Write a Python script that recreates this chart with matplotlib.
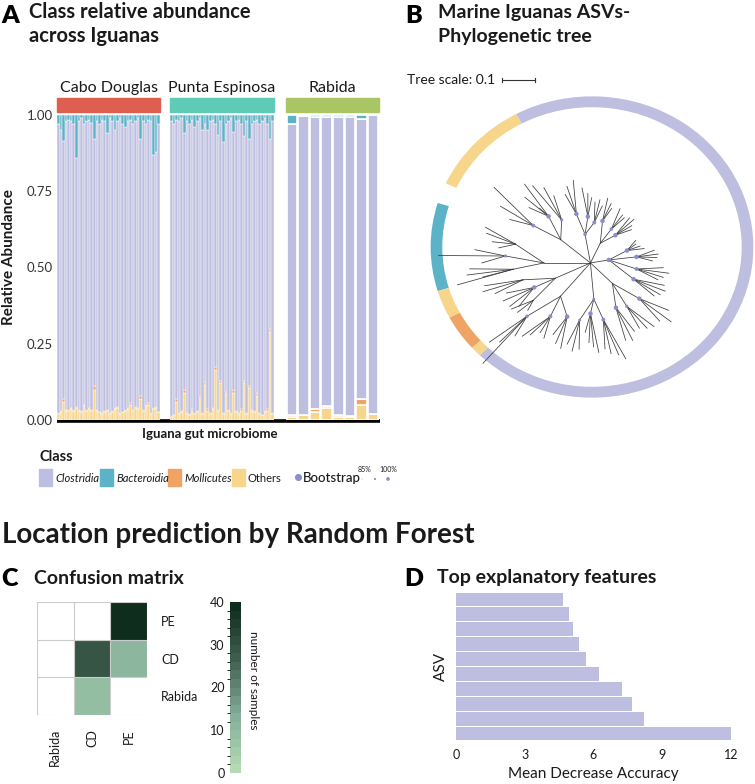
import numpy as np
import matplotlib
matplotlib.use("Agg")
import matplotlib.pyplot as plt
from matplotlib.patches import Rectangle, Wedge
from matplotlib.colors import LinearSegmentedColormap, BoundaryNorm

plt.rcParams['font.family'] = ['Lato', 'DejaVu Sans']

W, H = 755, 784

# ---- panel A data (relative abundance per sample) ----
cd_bacteroidia = [0.03, 0.05, 0.085, 0.02, 0.015, 0.02, 0.03, 0.14, 0.02, 0.01,
                  0.03, 0.02, 0.015, 0.025, 0.08, 0.02, 0.03, 0.015, 0.02, 0.06,
                  0.01, 0.02, 0.05, 0.02, 0.01, 0.03, 0.04, 0.02, 0.015, 0.03,
                  0.02, 0.01, 0.08, 0.02, 0.03, 0.015, 0.02, 0.13, 0.12, 0.03]
cd_others = [0.02, 0.025, 0.06, 0.03, 0.03, 0.035, 0.03, 0.04, 0.03, 0.025,
             0.045, 0.03, 0.035, 0.03, 0.10, 0.03, 0.025, 0.02, 0.025, 0.03,
             0.02, 0.025, 0.035, 0.04, 0.02, 0.025, 0.03, 0.035, 0.05, 0.03,
             0.04, 0.035, 0.07, 0.03, 0.045, 0.05, 0.02, 0.035, 0.04, 0.025]
cd_mollicutes = [0.003, 0.003, 0.01, 0.002, 0.003, 0.004, 0.002, 0.003, 0.002, 0.003,
                 0.004, 0.002, 0.003, 0.002, 0.012, 0.003, 0.002, 0.002, 0.003, 0.002,
                 0.002, 0.003, 0.004, 0.003, 0.002, 0.002, 0.003, 0.004, 0.006, 0.002,
                 0.003, 0.004, 0.008, 0.003, 0.004, 0.006, 0.002, 0.003, 0.004, 0.002]

pe_bacteroidia = [0.02, 0.03, 0.015, 0.02, 0.01, 0.06, 0.02, 0.03, 0.015, 0.04,
                  0.02, 0.01, 0.05, 0.03, 0.05, 0.02, 0.015, 0.03, 0.065, 0.02,
                  0.09, 0.03, 0.02, 0.01, 0.055, 0.02, 0.015, 0.03, 0.07, 0.02,
                  0.08, 0.03, 0.02, 0.015, 0.03, 0.02, 0.01, 0.03, 0.08, 0.02]
pe_others = [0.01, 0.015, 0.06, 0.02, 0.025, 0.09, 0.02, 0.015, 0.03, 0.02,
             0.025, 0.07, 0.02, 0.115, 0.03, 0.02, 0.035, 0.165, 0.03, 0.12,
             0.02, 0.085, 0.03, 0.02, 0.09, 0.025, 0.02, 0.03, 0.12, 0.02,
             0.105, 0.03, 0.025, 0.08, 0.02, 0.015, 0.025, 0.03, 0.29, 0.02]
pe_mollicutes = [0.003, 0.003, 0.008, 0.004, 0.005, 0.008, 0.003, 0.004, 0.006, 0.003,
                 0.004, 0.006, 0.003, 0.008, 0.005, 0.003, 0.004, 0.01, 0.004, 0.008,
                 0.003, 0.006, 0.004, 0.003, 0.008, 0.004, 0.003, 0.005, 0.008, 0.003,
                 0.008, 0.004, 0.003, 0.007, 0.003, 0.003, 0.004, 0.005, 0.008, 0.004]

rb_bacteroidia = [0.03, 0.003, 0.006, 0.006, 0.006, 0.006, 0.012, 0.0]
rb_others = [0.01, 0.015, 0.025, 0.04, 0.01, 0.01, 0.05, 0.02]
rb_mollicutes = [0.005, 0.0, 0.01, 0.005, 0.006, 0.003, 0.02, 0.0]

locations = ["Cabo Douglas", "Punta Espinosa", "Rabida"]
strip_colors = ["#de5f4f", "#5ecbb6", "#aac664"]
class_names = ["Clostridia", "Bacteroidia", "Mollicutes", "Others"]
class_colors = ["#bebee0", "#5cb3c8", "#efa466", "#f7d68c"]

# ---- panel B data: ring segments and a radial tree ----
ring_start = [118, 163, 197, 208, 222, -134]
ring_end = [155, 197, 208, 222, 226, 118]
ring_class = [3, 1, 3, 2, 3, 0]

clade_ang = [140, 100, 65, 10, -45, -85, -130, 180, 205]
clade_r = [0.25, 0.2, 0.15, 0.12, 0.2, 0.25, 0.3, 0.3, 0.25]
clade_boot = [0, 92, 0, 100, 0, 88, 0, 0, 0]

sub_parent = [0, 0, 0, 1, 1, 1, 2, 2, 2, 3, 3, 3, 3, 4, 4, 4, 5, 5, 5, 6, 6, 6, 7, 7, 7, 8, 8, 8]
sub_ang = [145, 130, 122, 105, 93, 85, 75, 60, 50, 20, 8, -8, -22, -38, -52, -62,
           -78, -90, -100, -112, -125, -138, 165, 175, 185, 195, 205, 215]
sub_r = [0.45, 0.42, 0.35, 0.35, 0.32, 0.28, 0.3, 0.27, 0.25, 0.25, 0.3, 0.3, 0.3, 0.4,
         0.38, 0.35, 0.4, 0.35, 0.4, 0.4, 0.45, 0.55, 0.5, 0.55, 0.5, 0.45, 0.4, 0.45]
sub_boot = [95, 100, 90, 100, 100, 95, 100, 92, 100, 100, 100, 95, 100, 100,
            90, 100, 95, 100, 88, 100, 95, 92, 0, 90, 0, 0, 100, 0]

leaf_parent = [0, 0, 0, 1, 1, 1, 1, 2, 2, 2, 3, 3, 3, 4, 4, 4, 5, 5, 5, 6, 6, 6,
               7, 7, 7, 8, 8, 8, 8, 9, 9, 9, 9, 10, 10, 10, 10, 11, 11, 11, 11,
               12, 12, 12, 12, 13, 13, 13, 14, 14, 14, 15, 15, 15, 16, 16, 16, 16,
               17, 17, 17, 17, 18, 18, 18, 19, 19, 19, 20, 20, 20, 20, 21, 21, 21, 21,
               22, 22, 22, 22, 23, 23, 23, 24, 24, 24, 24, 25, 25, 25, 26, 26, 26, 26,
               27, 27, 27]
leaf_ang = [140, 146, 150, 128, 133, 136, 131, 125, 120, 117, 101, 106, 109, 96, 92, 89,
            86, 82, 79, 76, 72, 70, 63, 58, 55, 51, 47, 44, 41, 28, 24, 20, 16, 12, 8, 5, 2,
            -4, -8, -12, -15, -18, -22, -26, -29, -33, -38, -42, -47, -51, -55, -59, -63, -67,
            -71, -74, -78, -81, -85, -88, -91, -94, -97, -101, -105, -108, -112, -116,
            -120, -124, -128, -131, -134, -137, -140, -135, 160, 163, 167, 170, 173, 177, 180,
            183, 186, 190, 188, 193, 196, 199, 201, 205, 210, 213, 212, 216, 219]
leaf_r = [0.81, 0.7, 0.6, 0.69, 0.62, 0.55, 0.5, 0.65, 0.6, 0.52, 0.58, 0.55, 0.5, 0.52,
          0.48, 0.45, 0.42, 0.44, 0.4, 0.46, 0.43, 0.4, 0.42, 0.39, 0.38, 0.4, 0.41, 0.37,
          0.35, 0.33, 0.32, 0.34, 0.36, 0.42, 0.44, 0.43, 0.4, 0.47, 0.51, 0.48, 0.45, 0.5,
          0.52, 0.5, 0.47, 0.6, 0.66, 0.6, 0.6, 0.58, 0.55, 0.55, 0.6, 0.58, 0.7, 0.66, 0.64,
          0.6, 0.62, 0.58, 0.55, 0.48, 0.6, 0.62, 0.58, 0.62, 0.6, 0.55, 0.6, 0.58, 0.63,
          0.67, 0.7, 0.8, 0.85, 0.98, 0.72, 0.7, 0.65, 0.6, 0.75, 0.98, 0.7, 0.78, 0.8, 0.87,
          0.7, 0.7, 0.72, 0.65, 0.58, 0.62, 0.6, 0.55, 0.6, 0.58, 0.52]
tree_root = (-0.01, -0.11)

# ---- panel C / D data ----
cm_rows = ["PE", "CD", "Rabida"]
cm_cols = ["Rabida", "CD", "PE"]
cm_counts = [[0, 0, 40],
             [0, 28, 11],
             [0, 9, 0]]
mda_values = [4.65, 4.95, 5.1, 5.37, 5.67, 6.22, 7.23, 7.67, 8.21, 12.0]


def box(l, t, r, b):
    return [l / W, 1 - b / H, (r - l) / W, (b - t) / H]


fig = plt.figure(figsize=(W / 100, H / 100), dpi=100)
canvas = fig.add_axes([0, 0, 1, 1])
canvas.set_xlim(0, W)
canvas.set_ylim(H, 0)
canvas.axis("off")

txt = "#1a1a1a"

# panel titles
canvas.text(1, 16, "A", fontsize=18, fontweight="heavy", va="center", color="black")
canvas.text(29, 12, "Class relative abundance", fontsize=14.5, fontweight="bold", va="center", color=txt)
canvas.text(29, 36, "across Iguanas", fontsize=14.5, fontweight="bold", va="center", color=txt)
canvas.text(405, 16, "B", fontsize=18, fontweight="heavy", va="center", color="black")
canvas.text(438, 12, "Marine Iguanas ASVs-", fontsize=14, fontweight="bold", va="center", color=txt)
canvas.text(438, 36, "Phylogenetic tree", fontsize=14, fontweight="bold", va="center", color=txt)
canvas.text(2, 535, "Location prediction by Random Forest", fontsize=20, fontweight="bold",
            va="center", color=txt)
canvas.text(1, 579, "C", fontsize=18, fontweight="heavy", va="center", color="black")
canvas.text(34, 578, "Confusion matrix", fontsize=14, fontweight="bold", va="center", color=txt)
canvas.text(404, 579, "D", fontsize=18, fontweight="heavy", va="center", color="black")
canvas.text(437, 578, "Top explanatory features", fontsize=14, fontweight="bold", va="center", color=txt)

# ---- panel A: stacked bars in three facets ----
groups = [(cd_bacteroidia, cd_mollicutes, cd_others),
          (pe_bacteroidia, pe_mollicutes, pe_others),
          (rb_bacteroidia, rb_mollicutes, rb_others)]
facet_px = [(57, 160), (170, 274), (286, 379)]
for k, (bac, mol, oth) in enumerate(groups):
    l, r = facet_px[k]
    ax = fig.add_axes(box(l, 115, r, 420))
    bac = np.array(bac)
    mol = np.array(mol)
    oth = np.array(oth)
    clo = 1 - bac - mol - oth
    x = np.arange(len(bac))
    wd = 0.9 if k == 2 else 1.0
    lw = 1.2 if k == 2 else 0.35
    bottom = np.zeros(len(bac))
    for vals, col in [(oth, class_colors[3]), (mol, class_colors[2]),
                      (clo, class_colors[0]), (bac, class_colors[1])]:
        ax.bar(x, vals, bottom=bottom, width=wd, color=col, edgecolor="white", linewidth=lw)
        bottom = bottom + vals
    ax.set_xlim(-0.5, len(bac) - 0.5)
    ax.set_ylim(0, 1)
    for s in ax.spines.values():
        s.set_visible(False)
    ax.set_xticks([])
    if k == 0:
        ax.set_yticks([0, 0.25, 0.5, 0.75, 1.0])
        ax.set_yticklabels(["0.00", "0.25", "0.50", "0.75", "1.00"], fontsize=9.5, color="#333333")
        ax.tick_params(axis="y", length=0, pad=3)
    else:
        ax.set_yticks([])
    ax.add_patch(Rectangle((-0.5, 1.01), len(bac), 0.046, color=strip_colors[k],
                           clip_on=False, transform=ax.transData))
    canvas.text((l + r) / 2, 88, locations[k], fontsize=11.5, ha="center", va="center", color=txt)

canvas.plot([57, 380], [421, 421], color="black", lw=2.6, solid_capstyle="butt")
canvas.text(210, 434, "Iguana gut microbiome", fontsize=9.5, fontweight="bold", ha="center",
            va="center", color=txt)
canvas.text(9, 257, "Relative Abundance", fontsize=11, fontweight="bold", rotation=90,
            ha="center", va="center", color=txt)

# legend
canvas.text(39, 457, "Class", fontsize=10.5, fontweight="bold", va="center", color=txt)
leg_px = [39, 100, 168, 232]
for i, name in enumerate(class_names):
    canvas.add_patch(Rectangle((leg_px[i], 469), 13, 17, color=class_colors[i]))
    canvas.text(leg_px[i] + 16, 478, name, fontsize=8, va="center", color=txt,
                style="normal" if name == "Others" else "italic")
canvas.scatter([298], [477], s=26, color="#8a8dd0", zorder=3, lw=0)
canvas.text(303, 478, "Bootstrap", fontsize=9.5, fontweight="medium", va="center", color=txt)
canvas.text(364, 469, "85%", fontsize=5, ha="center", va="center", color=txt)
canvas.text(388, 469, "100%", fontsize=5, ha="center", va="center", color=txt)
canvas.scatter([362, 375, 388], [479, 479, 479], s=[0.4, 2.5, 7], color="#8a8dd0", lw=0)

# ---- panel B: tree ----
axb = fig.add_axes(box(426, 92, 758, 402))
axb.set_xlim(-1.07, 1.07)
axb.set_ylim(-1.07, 1.07)
axb.axis("off")
for a0, a1, c in zip(ring_start, ring_end, ring_class):
    axb.add_patch(Wedge((0, 0), 1.04, a0, a1, width=0.075, color=class_colors[c], lw=0))


def pol(ang, rad):
    t = np.deg2rad(ang)
    return tree_root[0] + rad * np.cos(t), tree_root[1] + rad * np.sin(t)


clade_xy = [pol(a, r) for a, r in zip(clade_ang, clade_r)]
sub_xy = [pol(a, r) for a, r in zip(sub_ang, sub_r)]
leaf_xy = [pol(a, r) for a, r in zip(leaf_ang, leaf_r)]
line_kw = dict(color="#3a3a3a", lw=0.55)
for cx, cy in clade_xy:
    axb.plot([tree_root[0], cx], [tree_root[1], cy], **line_kw)
for p, (sx, sy) in zip(sub_parent, sub_xy):
    axb.plot([clade_xy[p][0], sx], [clade_xy[p][1], sy], **line_kw)
for p, (lx, ly) in zip(leaf_parent, leaf_xy):
    axb.plot([sub_xy[p][0], lx], [sub_xy[p][1], ly], **line_kw)
boot_x = [xy[0] for xy, b in zip(clade_xy + sub_xy, clade_boot + sub_boot) if b > 0]
boot_y = [xy[1] for xy, b in zip(clade_xy + sub_xy, clade_boot + sub_boot) if b > 0]
boot_v = np.array([b for b in clade_boot + sub_boot if b > 0])
axb.scatter(boot_x, boot_y, s=3 + (boot_v - 85) * 0.5, color="#8a8dd0", zorder=3, lw=0)

canvas.text(407, 80, "Tree scale: 0.1", fontsize=10, va="center", color=txt)
canvas.plot([502, 535], [80, 80], color="#333333", lw=0.8)
canvas.plot([502, 502], [78, 82], color="#333333", lw=0.8)
canvas.plot([535, 535], [78, 82], color="#333333", lw=0.8)

# ---- panel C: confusion matrix ----
greens = LinearSegmentedColormap.from_list("grn", ["#b3dab2", "#82ad98", "#41604f", "#0e2d1d"])
levels = np.linspace(0, 40, 21)
cmap = matplotlib.colors.ListedColormap(greens(np.linspace(0, 1, 20)))
norm = BoundaryNorm(levels, cmap.N)
axc = fig.add_axes(box(37, 602, 147, 715))
cm = np.ma.masked_equal(np.array(cm_counts, dtype=float), 0)
axc.pcolormesh(cm[::-1], cmap=cmap, norm=norm)
for v in range(4):
    axc.axhline(v, color="#cccccc", lw=0.8)
    axc.axvline(v, color="#cccccc", lw=0.8)
axc.set_xlim(0, 3)
axc.set_ylim(0, 3)
for s in axc.spines.values():
    s.set_visible(False)
axc.set_xticks(np.arange(3) + 0.5)
axc.set_xticklabels(cm_cols, rotation=90, fontsize=9, color=txt)
axc.set_yticks(np.arange(3) + 0.5)
axc.set_yticklabels(cm_rows[::-1], fontsize=9, color=txt)
axc.yaxis.tick_right()
axc.tick_params(length=0, pad=10)

axcb = fig.add_axes(box(230, 602, 241, 773))
sm = matplotlib.cm.ScalarMappable(norm=norm, cmap=cmap)
cb = fig.colorbar(sm, cax=axcb, ticks=[0, 10, 20, 30, 40])
cb.outline.set_visible(False)
axcb.yaxis.set_ticks_position("left")
axcb.tick_params(length=0, labelsize=9, labelcolor=txt, pad=4)
canvas.text(253, 680, "number of samples", fontsize=8.5, rotation=-90, ha="center",
            va="center", color=txt)

# ---- panel D: feature importance ----
axd = fig.add_axes(box(456, 592, 731, 741))
ypos = np.arange(len(mda_values))[::-1]
axd.barh(ypos, mda_values, height=0.93, color=class_colors[0])
axd.set_xlim(0, 12)
axd.set_ylim(-0.5, len(mda_values) - 0.5)
for s in axd.spines.values():
    s.set_visible(False)
axd.set_yticks([])
axd.set_xticks([0, 3, 6, 9, 12])
axd.tick_params(axis="x", length=0, labelsize=9, labelcolor=txt, pad=6)
axd.set_xlabel("Mean Decrease Accuracy", fontsize=11, color=txt, labelpad=4)
axd.set_ylabel("ASV", fontsize=11, color=txt, labelpad=6)

fig.savefig("out.png", dpi=100)
